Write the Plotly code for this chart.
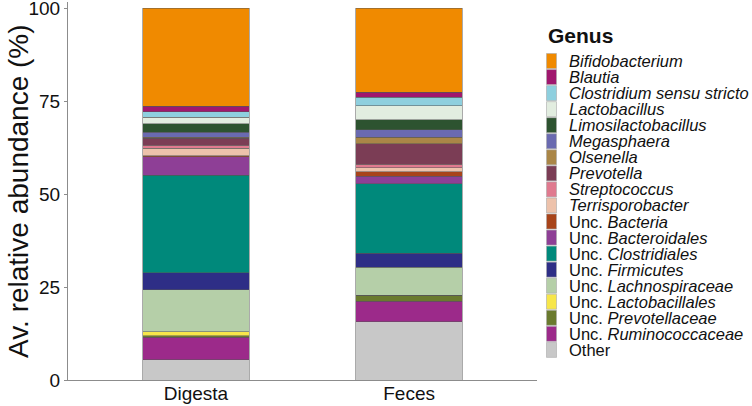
import plotly.graph_objects as go

samples = ["Digesta", "Feces"]

genera = [
    "Bifidobacterium", "Blautia", "Clostridium sensu stricto", "Lactobacillus",
    "Limosilactobacillus", "Megasphaera", "Olsenella", "Prevotella",
    "Streptococcus", "Terrisporobacter", "Unc. Bacteria", "Unc. Bacteroidales",
    "Unc. Clostridiales", "Unc. Firmicutes", "Unc. Lachnospiraceae",
    "Unc. Lactobacillales", "Unc. Prevotellaceae", "Unc. Ruminococcaceae", "Other",
]

digesta = [26.35, 1.5, 1.5, 1.8, 2.3, 1.3, 0.2, 2.0, 0.8, 1.9, 0.3, 5.0,
           26.2, 4.65, 11.2, 1.1, 0.4, 6.1, 5.4]
feces = [22.65, 1.4, 2.2, 3.8, 2.7, 2.0, 1.75, 5.55, 0.95, 1.05, 1.2, 2.05,
         18.6, 3.8, 7.45, 0.1, 1.6, 5.55, 15.6]

colors = [
    "#F08A00", "#A0176E", "#8ECFDE", "#E2EDE0", "#2D5330", "#6A6AB0",
    "#AA8647", "#7B3D55", "#E07A8F", "#EDC2AB", "#A8441A", "#8E3F96",
    "#00897B", "#2E2E86", "#B5CFA8", "#F7E64A", "#6A7A2E", "#9C2A8A", "#C8C8C8",
]

yticks = [0, 25, 50, 75, 100]

FONT = "Liberation Sans, Arial, sans-serif"

fig = go.Figure()
# stack from bottom (last genus) to top (first genus)
for i in reversed(range(len(genera))):
    fig.add_trace(go.Bar(
        x=samples, y=[digesta[i], feces[i]], name=genera[i],
        marker=dict(color=colors[i], line=dict(color="#555555", width=0.5)),
        width=0.5, showlegend=False,
    ))

# pixel geometry of the plot area
L, R, T, B = 68, 537, 2, 380
W, H = 752, 406


def px_x(p):
    return (p - L) / (R - L)


def px_y(p):
    return (B - p) / (B - T)


def label(name):
    if name == "Other":
        return "Other"
    if name.startswith("Unc. "):
        return "Unc. <i>" + name[5:] + "</i>"
    return "<i>" + name + "</i>"


shapes = []
annotations = [dict(
    x=px_x(546), y=px_y(35), xref="paper", yref="paper", xanchor="left",
    yanchor="middle", text="<b>Genus</b>", showarrow=False,
    font=dict(family=FONT, size=21, color="#111111"),
)]
pitch = 16.05
for i, g in enumerate(genera):
    cy = 61 + i * pitch
    shapes.append(dict(
        type="rect", xref="paper", yref="paper",
        x0=px_x(546.5), x1=px_x(556.5), y0=px_y(cy - 7.5), y1=px_y(cy + 7.5),
        fillcolor=colors[i], line=dict(color="#AAAAAA", width=0.6), layer="above",
    ))
    annotations.append(dict(
        x=px_x(567), y=px_y(cy), xref="paper", yref="paper", xanchor="left",
        yanchor="middle", text=label(g), showarrow=False,
        font=dict(family=FONT, size=16.5, color="#111111"),
    ))

# y-axis title as a rotated annotation so its place is fixed
annotations.append(dict(
    x=px_x(18), y=0.5, xref="paper", yref="paper", xanchor="center",
    yanchor="middle", text="Av. relative abundance (%)", showarrow=False,
    textangle=-90, font=dict(family=FONT, size=28, color="#111111"),
))

fig.update_layout(
    width=W, height=H,
    margin=dict(l=L, r=W - R, t=T, b=H - B, pad=0, autoexpand=False),
    barmode="stack", bargap=0.5,
    paper_bgcolor="white", plot_bgcolor="white",
    font=dict(family=FONT, color="#111111"),
    shapes=shapes, annotations=annotations,
    showlegend=False,
)
fig.update_xaxes(
    range=[-0.6, 1.6], showline=True, linecolor="#8c8c8c", linewidth=1,
    ticks="", showgrid=False, zeroline=False, automargin=False,
    ticklabeloverflow="allow", ticklabelstandoff=-4,
    tickfont=dict(family=FONT, size=19, color="#111111"),
)
fig.update_yaxes(
    range=[0, (B - T) / 3.72], tickvals=yticks, ticktext=[str(v) for v in yticks],
    showline=True, linecolor="#8c8c8c", linewidth=1, ticks="outside",
    ticklen=3, tickcolor="#8c8c8c", showgrid=False, zeroline=False,
    automargin=False, ticklabeloverflow="allow",
    tickfont=dict(family=FONT, size=19, color="#111111"),
)

fig.write_html(
    "out.html",
    config={"displayModeBar": False},
    post_script="document.body.style.margin='0';document.body.style.overflow='hidden';",
)
